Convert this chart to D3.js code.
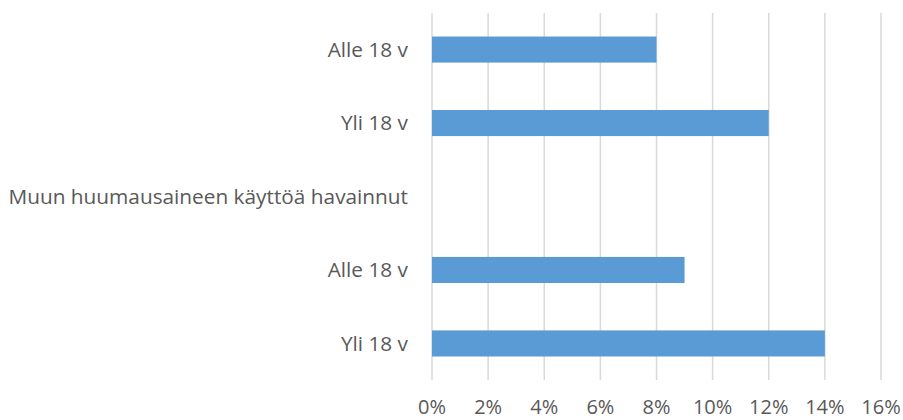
<!DOCTYPE html>
<html>
<head>
<meta charset="utf-8">
<script src="https://cdn.jsdelivr.net/npm/d3@7"></script>
<style>
  body { margin: 0; background: #fff; }
  text { font-family: "Open Sans", sans-serif; fill: #595959; }
</style>
</head>
<body>
<div id="chart"></div>
<script>
// category labels, top to bottom
const categories = ["Alle 18 v", "Yli 18 v", "Muun huumausaineen käyttöä havainnut", "Alle 18 v", "Yli 18 v"];
// values in percent (header row has no bar)
const values = [8, 12, null, 9, 14];
const ticks = [0, 2, 4, 6, 8, 10, 12, 14, 16];

const W = 903, H = 420;
const margin = {top: 13, right: 22, bottom: 40, left: 432};
const width = W - margin.left - margin.right,
      height = H - margin.top - margin.bottom;

const svg = d3.select("#chart").append("svg")
    .attr("width", W).attr("height", H)
  .append("g")
    .attr("transform", `translate(${margin.left},${margin.top})`);

const x = d3.scaleLinear().domain([0, 16]).range([0, width]);
const y = d3.scaleBand()
  .domain(categories.map((d, i) => i))
  .range([0, height])
  .paddingInner(0.645).paddingOuter(0.32);

// gridlines
svg.selectAll("line.grid")
  .data(ticks)
  .join("line")
    .attr("class", "grid")
    .attr("x1", d => x(d)).attr("x2", d => x(d))
    .attr("y1", 0).attr("y2", height)
    .attr("stroke", "#d9d9d9")
    .attr("stroke-width", 1.5);

// bars
svg.selectAll("rect")
  .data(values.map((v, i) => ({v, i})).filter(d => d.v !== null))
  .join("rect")
    .attr("x", x(0))
    .attr("y", d => y(d.i))
    .attr("width", d => x(d.v) - x(0))
    .attr("height", y.bandwidth())
    .attr("fill", "#5b9bd5");

// category labels
svg.selectAll("text.cat")
  .data(categories)
  .join("text")
    .attr("class", "cat")
    .attr("x", -24)
    .attr("y", (d, i) => y(i) + y.bandwidth() / 2)
    .attr("dy", "0.35em")
    .attr("text-anchor", "end")
    .style("font-size", "20.8px")
    .text(d => d);

// x tick labels
svg.selectAll("text.tick")
  .data(ticks)
  .join("text")
    .attr("class", "tick")
    .attr("x", d => x(d))
    .attr("y", height + 27)
    .attr("dy", "0.35em")
    .attr("text-anchor", "middle")
    .style("font-size", "20px")
    .text(d => d + "%");
</script>
</body>
</html>
